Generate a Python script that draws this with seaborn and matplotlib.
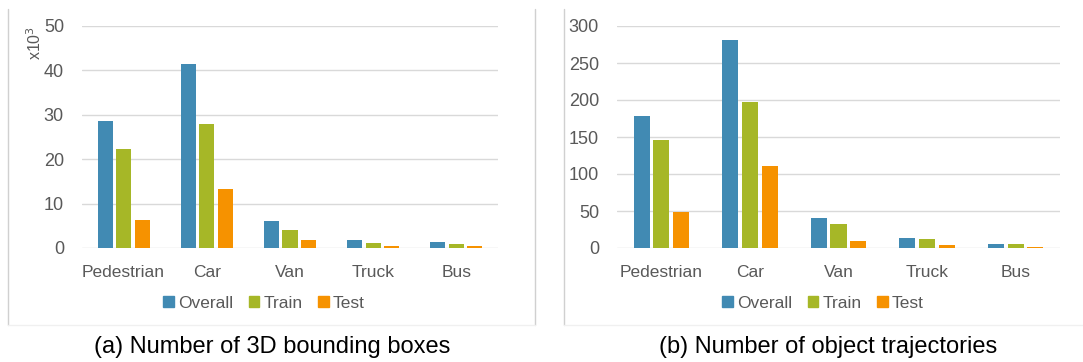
import matplotlib
matplotlib.use("Agg")
import matplotlib.pyplot as plt
from matplotlib.lines import Line2D
import seaborn as sns
import pandas as pd

categories = ["Pedestrian", "Car", "Van", "Truck", "Bus"]
splits = ["Overall", "Train", "Test"]

# 3D bounding boxes (x10^3)
boxes_overall = [28.7, 41.4, 6.0, 1.7, 1.4]
boxes_train = [22.3, 28.0, 4.0, 1.2, 0.9]
boxes_test = [6.3, 13.3, 1.9, 0.5, 0.5]

# object trajectories
traj_overall = [179, 281, 41, 14, 6]
traj_train = [146, 197, 32, 12, 6]
traj_test = [49, 111, 10, 4, 2]

colors = ["#418AB3", "#A6B727", "#F69200"]
text_color = "#595959"
grid_color = "#D9D9D9"

sns.set_theme(style="white")
plt.rcParams["font.family"] = ["Liberation Sans", "DejaVu Sans"]


def long_frame(overall, train, test):
    rows = []
    for name, vals in zip(splits, [overall, train, test]):
        for cat, v in zip(categories, vals):
            rows.append({"category": cat, "split": name, "value": v})
    return pd.DataFrame(rows)


fig = plt.figure(figsize=(10.83, 3.62), dpi=100)
fig.patch.set_facecolor("white")

W, H = 1083, 362
panels = [
    dict(rect=[82 / W, 1 - 248 / H, 416 / W, 222 / H],
         data=long_frame(boxes_overall, boxes_train, boxes_test),
         ymax=50, step=10, legend_x=264, caption_x=272,
         caption="(a) Number of 3D bounding boxes"),
    dict(rect=[617 / W, 1 - 248 / H, 443 / W, 222 / H],
         data=long_frame(traj_overall, traj_train, traj_test),
         ymax=300, step=50, legend_x=823, caption_x=828,
         caption="(b) Number of object trajectories"),
]

axes = []
for p in panels:
    ax = fig.add_axes(p["rect"])
    sns.barplot(data=p["data"], x="category", y="value", hue="split",
                hue_order=splits, order=categories, palette=colors,
                saturation=1, width=0.667, gap=0.18, linewidth=0,
                legend=False, ax=ax, zorder=3)
    ax.set_xlim(-0.5, len(categories) - 0.5)
    ax.set_ylim(0, p["ymax"])
    ax.set_yticks(range(0, p["ymax"] + 1, p["step"]))
    ax.yaxis.grid(True, color=grid_color, linewidth=1.0, zorder=0)
    ax.set_axisbelow(True)
    for s in ax.spines.values():
        s.set_visible(False)
    ax.set_xlabel("")
    ax.set_ylabel("")
    ax.tick_params(axis="y", length=0, pad=13, labelsize=13, labelcolor=text_color)
    ax.tick_params(axis="x", length=0, pad=12, labelsize=12.5, labelcolor=text_color)

    handles = [plt.Rectangle((0, 0), 1, 1, color=c) for c in colors]
    ax.legend(handles, splits, loc="center",
              bbox_to_anchor=(p["legend_x"] / W, 1 - 303 / H),
              bbox_transform=fig.transFigure, ncol=3, frameon=False,
              handlelength=0.6, handleheight=0.6, handletextpad=0.25,
              columnspacing=0.9, fontsize=12.5, labelcolor=text_color)

    fig.text(p["caption_x"] / W, 1 - 347 / H, p["caption"], ha="center",
             va="center", fontsize=17, color="black")
    axes.append(ax)

# unit label on the left chart
fig.text(35 / W, 1 - 43 / H, "x10$^3$", rotation=90, ha="center", va="center",
         fontsize=11.5, color=text_color)

# panel frames
frame_v = "#D0D0D0"
frame_h = "#F0F0F0"
for x in (8, 535, 564):
    fig.add_artist(Line2D([x / W, x / W], [1 - 9 / H, 1 - 325 / H],
                          transform=fig.transFigure, color=frame_v, linewidth=1.0))
for x0, x1 in ((8, 535), (564, 1083)):
    fig.add_artist(Line2D([x0 / W, x1 / W], [1 - 325 / H, 1 - 325 / H],
                          transform=fig.transFigure, color=frame_h, linewidth=1.0))

fig.savefig("out.png", dpi=100, facecolor="white")
